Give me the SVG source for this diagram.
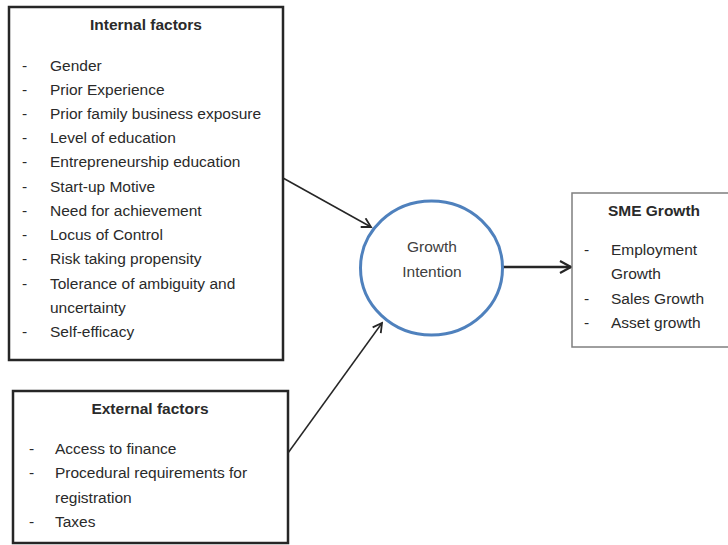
<svg xmlns="http://www.w3.org/2000/svg" width="728" height="545" viewBox="0 0 728 545">
<style>
text{font-family:"Liberation Sans",Arial,sans-serif;font-size:15.5px;fill:#2a2a2a}
.h{font-weight:bold;text-anchor:middle}
.c{text-anchor:middle;fill:#404040}
.box{fill:#fff;stroke:#262626;stroke-width:2.5}
.conn{stroke:#262626;fill:none}
</style>
<defs>
<marker id="ah" markerWidth="12" markerHeight="12" refX="10" refY="6" orient="auto" markerUnits="userSpaceOnUse">
<path d="M1,1 L10,6 L1,11" fill="none" stroke="#262626" stroke-width="1.8"/>
</marker>
<marker id="ah2" markerWidth="16" markerHeight="16" refX="13" refY="8" orient="auto" markerUnits="userSpaceOnUse">
<path d="M2,2 L13,8 L2,14" fill="none" stroke="#262626" stroke-width="2.2"/>
</marker>
</defs>
<rect width="728" height="545" fill="#fff"/>
<g id="connectors">
<line class="conn" x1="283" y1="178" x2="371" y2="227" stroke-width="1.5" marker-end="url(#ah)"/>
<line class="conn" x1="288" y1="453" x2="382" y2="323" stroke-width="1.5" marker-end="url(#ah)"/>
<line class="conn" x1="503" y1="267" x2="571" y2="267" stroke-width="2.5" marker-end="url(#ah2)"/>
</g>
<g id="internal">
<rect class="box" x="9" y="7" width="274" height="353"/>
<text class="h" x="146" y="30">Internal factors</text>
<g>
<text x="22" y="71">-</text><text x="50" y="71">Gender</text>
<text x="22" y="95">-</text><text x="50" y="95">Prior Experience</text>
<text x="22" y="119">-</text><text x="50" y="119">Prior family business exposure</text>
<text x="22" y="143">-</text><text x="50" y="143">Level of education</text>
<text x="22" y="167">-</text><text x="50" y="167">Entrepreneurship education</text>
<text x="22" y="192">-</text><text x="50" y="192">Start-up Motive</text>
<text x="22" y="216">-</text><text x="50" y="216">Need for achievement</text>
<text x="22" y="240">-</text><text x="50" y="240">Locus of Control</text>
<text x="22" y="264">-</text><text x="50" y="264">Risk taking propensity</text>
<text x="22" y="289">-</text><text x="50" y="289">Tolerance of ambiguity and</text>
<text x="50" y="313">uncertainty</text>
<text x="22" y="337">-</text><text x="50" y="337">Self-efficacy</text>
</g>
</g>
<g id="external">
<rect class="box" x="13" y="391" width="275" height="152"/>
<text class="h" x="150" y="414">External factors</text>
<text x="29" y="454">-</text><text x="55" y="454">Access to finance</text>
<text x="29" y="478">-</text><text x="55" y="478">Procedural requirements for</text>
<text x="55" y="503">registration</text>
<text x="29" y="527">-</text><text x="55" y="527">Taxes</text>
</g>
<g id="intention">
<ellipse cx="431.5" cy="268" rx="71" ry="67" fill="#fff" stroke="#4f81bd" stroke-width="3"/>
<text class="c" x="432" y="252">Growth</text>
<text class="c" x="432" y="277">Intention</text>
</g>
<g id="sme">
<rect x="572" y="193" width="160" height="154" fill="#fff" stroke="#7f7f7f" stroke-width="1.5"/>
<text class="h" x="654" y="216">SME Growth</text>
<text x="584" y="255">-</text><text x="611" y="255">Employment</text>
<text x="611" y="279">Growth</text>
<text x="584" y="304">-</text><text x="611" y="304">Sales Growth</text>
<text x="584" y="328">-</text><text x="611" y="328">Asset growth</text>
</g>
</svg>
